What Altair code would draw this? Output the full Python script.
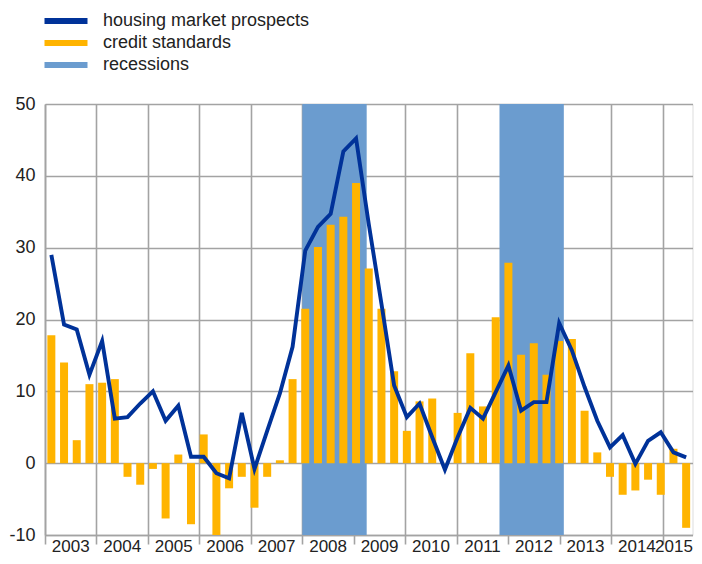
import altair as alt
import pandas as pd

# ---------------- data ----------------
quarters = [f"{y}Q{q}" for y in range(2003, 2016) for q in range(1, 5)][:51]

credit_standards = [17.8, 14.0, 3.2, 11.0, 11.2, 11.7, -1.9, -3.0, -0.8, -7.7,
                    1.2, -8.5, 4.0, -10.0, -3.5, -1.9, -6.2, -1.9, 0.4, 11.7,
                    21.5, 30.1, 33.2, 34.3, 39.0, 27.1, 21.5, 12.8, 4.5, 8.6,
                    9.0, 0.0, 7.0, 15.3, 7.9, 20.3, 27.9, 15.1, 16.7, 12.3,
                    17.0, 17.3, 7.3, 1.5, -1.9, -4.4, -3.8, -2.3, -4.4, 2.0,
                    -9.0]

housing_prospects = [29.0, 19.3, 18.6, 12.3, 17.0, 6.2, 6.4, 8.3, 10.0, 5.9,
                     8.0, 0.9, 0.9, -1.4, -2.1, 7.0, -0.8, 4.5, 9.7, 16.2,
                     29.6, 32.9, 34.7, 43.4, 45.2, 33.3, 22.2, 10.8, 6.4, 8.3,
                     3.6, -0.9, 3.6, 7.7, 6.2, 9.9, 13.6, 7.3, 8.5, 8.5,
                     19.5, 15.7, 10.6, 5.9, 2.2, 3.9, -0.1, 3.1, 4.3, 1.5,
                     0.8]

years = list(range(2003, 2016))
recession_start = [2008.0, 2011.83]
recession_end = [2009.25, 2013.08]

series_names = ["housing market prospects", "credit standards", "recessions"]
series_colors = ["#003299", "#FFB400", "#6b9ccf"]

y_ticks = [-10, 0, 10, 20, 30, 40, 50]

# ---------------- layout ----------------
W, H = 647.5, 431
X_MAX = 2015.58
FONT = "Liberation Sans, Arial, sans-serif"
GRID = "#a3a3a3"

df = pd.DataFrame({
    "quarter": quarters,
    "credit": credit_standards,
    "housing": housing_prospects,
    "series": ["credit standards"] * len(quarters),
})
rec_df = pd.DataFrame({"start": recession_start, "end": recession_end})
# year labels sit mid-year; the last one is kept inside the plot edge
lab_df = pd.DataFrame({
    "label": [str(y) for y in years],
    "pos": [min(y + 0.5, X_MAX - 0.36) for y in years],
})

year_scale = alt.Scale(domain=[2003, X_MAX], nice=False, zero=False)
x_axis = alt.Axis(values=years, labels=False, ticks=True, tickSize=9,
                  tickColor=GRID, tickWidth=1.6, grid=True, gridColor=GRID,
                  gridWidth=1.6, domain=True, domainColor=GRID,
                  domainWidth=1.6, title=None, orient="bottom")
y_scale = alt.Scale(domain=[-10, 50], nice=False, zero=False)
y_axis = alt.Axis(values=y_ticks, title=None, grid=True, gridColor=GRID,
                  gridWidth=1.6, ticks=False, domain=True, domainColor=GRID,
                  domainWidth=1.6, labelFontSize=18, labelFont=FONT,
                  labelColor="#222222", labelPadding=10,
                  labelExpr="'' + datum.value")

q_scale = alt.Scale(domain=quarters, paddingInner=0.37, paddingOuter=0.185)

bands = alt.Chart(rec_df).mark_rect(color=series_colors[2]).encode(
    x=alt.X("start:Q", scale=year_scale, axis=x_axis),
    x2="end:Q",
)
labels = alt.Chart(lab_df).mark_text(
    fontSize=17, font=FONT, color="#222222", baseline="alphabetic", align="center"
).encode(
    x=alt.X("pos:Q", scale=year_scale, axis=x_axis),
    y=alt.value(H + 17),
    text="label:N",
)
year_layer = alt.layer(bands, labels)

bars = alt.Chart(df).mark_bar().encode(
    x=alt.X("quarter:N", sort=quarters, scale=q_scale, axis=None),
    y=alt.Y("credit:Q", scale=y_scale, axis=y_axis, stack=None),
    color=alt.Color(
        "series:N",
        scale=alt.Scale(domain=series_names, range=series_colors),
        legend=alt.Legend(
            title=None, orient="none", legendX=12, legendY=-92,
            symbolType="M-3,-0.42H3V0.42H-3Z", symbolSize=205.4,
            symbolStrokeWidth=0, labelFontSize=18, labelFont=FONT,
            labelColor="#222222", labelOffset=28, rowPadding=4,
            labelLimit=500,
        ),
    ),
)
line = alt.Chart(df).mark_line(color=series_colors[0], strokeWidth=3.9).encode(
    x=alt.X("quarter:N", sort=quarters, scale=q_scale, axis=None),
    y=alt.Y("housing:Q", scale=y_scale, axis=y_axis),
)
data_layer = alt.layer(bars, line)

chart = alt.layer(year_layer, data_layer).resolve_scale(x="independent").properties(
    width=W, height=H,
    autosize=alt.AutoSizeParams(type="none"),
    padding={"left": 37, "top": 96, "right": 1.5, "bottom": 21},
).configure_view(stroke=GRID, strokeWidth=1.6).configure(background="white")

chart.save("out.html", embed_options={"renderer": "svg", "actions": False})
